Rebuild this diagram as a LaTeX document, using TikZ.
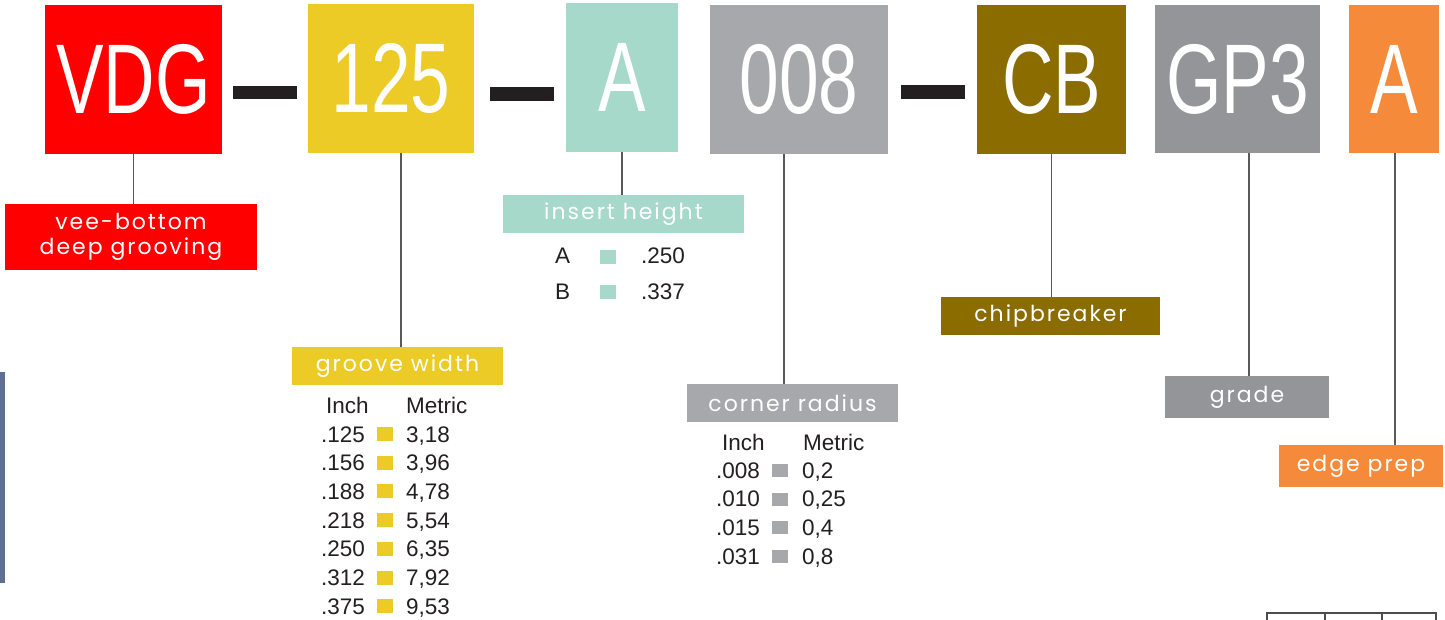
\documentclass[tikz,border=0pt]{standalone}
\usepackage{fontspec}
\usepackage{graphicx}
\setmainfont{Liberation Sans}
\newfontfamily\labelfont[LetterSpace=9]{Poppins}

\definecolor{cRed}{HTML}{FF0000}
\definecolor{cYellow}{HTML}{EDCB26}
\definecolor{cTeal}{HTML}{A7D9CA}
\definecolor{cGray}{HTML}{A7A8AC}
\definecolor{cOlive}{HTML}{8A6C00}
\definecolor{cDark}{HTML}{939598}
\definecolor{cOrange}{HTML}{F58A3A}
\definecolor{cInk}{HTML}{231F20}
\definecolor{cBlue}{HTML}{5F6F92}

\newcommand\slim[1]{\raisebox{-3pt}{\scalebox{0.72}[1]{#1}}}

\tikzset{
    code/.style={fill=#1, text=white, inner sep=0pt, font=\fontsize{99}{99}\selectfont},
    lbl/.style={fill=#1, text=white, inner sep=0pt, align=center,
        font=\labelfont\fontsize{22}{25}\selectfont},
    conn/.style={draw=black!65, line width=1.3pt},
    tab/.style={text=cInk, inner sep=0pt, font=\fontsize{22.5}{22.5}\selectfont},
}

\begin{document}
\begin{tikzpicture}[x=1pt, y=-1pt]
        \useasboundingbox (0,0) rectangle (1445,620);

        % part number
        \node[code=cRed, minimum width=177pt, minimum height=149pt] (vdg) at (133.5,79.5) {\slim{VDG}};
        \node[code=cYellow, minimum width=166pt, minimum height=149pt] (c125) at (391,78.5) {\slim{125}};
        \node[code=cTeal, minimum width=112pt, minimum height=149pt] (cA) at (622,77.5) {\slim{A}};
        \node[code=cGray, minimum width=178pt, minimum height=149pt] (c008) at (799,79.5) {\slim{008}};
        \node[code=cOlive, minimum width=149pt, minimum height=149pt] (cCB) at (1051.5,79.5) {\slim{CB}};
        \node[code=cDark, minimum width=165pt, minimum height=148pt] (cGP) at (1237.5,79) {\slim{GP3}};
        \node[code=cOrange, minimum width=90pt, minimum height=148pt] (cEdge) at (1394,79) {\slim{A}};

        % dashes
        \fill[cInk] (233,86) rectangle (297,99);
        \fill[cInk] (490,87) rectangle (554,101);
        \fill[cInk] (901,85) rectangle (965,99);

        % labels
        \node[lbl=cRed, minimum width=252pt, minimum height=66pt] (lvee) at (131,237) {vee-bottom\\deep grooving};
        \node[lbl=cYellow, minimum width=211pt, minimum height=38pt] (lgroove) at (397.5,366) {groove width};
        \node[lbl=cTeal, minimum width=241pt, minimum height=38pt] (linsert) at (623.5,214) {insert height};
        \node[lbl=cGray, minimum width=211pt, minimum height=38pt] (lcorner) at (792.5,403) {corner radius};
        \node[lbl=cOlive, minimum width=219pt, minimum height=38pt] (lchip) at (1050.5,316) {chipbreaker};
        \node[lbl=cDark, minimum width=164pt, minimum height=42pt] (lgrade) at (1247,397) {grade};
        \node[lbl=cOrange, minimum width=164pt, minimum height=42pt] (ledge) at (1361,466) {edge prep};

        \foreach \c/\l/\dx in {vdg/lvee/0, c125/lgroove/10, cA/linsert/0, c008/lcorner/-15,
                cCB/lchip/0, cGP/lgrade/11.5, cEdge/ledge/1}
            \draw[conn] ([xshift=\dx pt]\c.south) -- ([xshift=\dx pt]\c.south |- \l.north);

        % insert height values
        \foreach \h/\v [count=\i from 0] in {A/.250, B/.337} {
            \node[tab, anchor=base west] (ih\i) at (555,{264+35*\i}) {\h};
            \fill[cTeal] (600,{250+35*\i}) rectangle +(16,14);
            \node[tab, anchor=base west] (iv\i) at (641,{264+35*\i}) {\v};
        }

        % groove width values
        \node[tab, anchor=base west] (gInch) at (326,413) {Inch};
        \node[tab, anchor=base west] (gMetric) at (406,413) {Metric};
        \foreach \inch/\mm [count=\i from 0] in {.125/{3,18}, .156/{3,96}, .188/{4,78},
                .218/{5,54}, .250/{6,35}, .312/{7,92}, .375/{9,53}} {
            \node[tab, anchor=base east] (gi\i) at (365,{442+28.7*\i}) {\inch};
            \fill[cYellow] (377,{427+28.7*\i}) rectangle +(16,14);
            \node[tab, anchor=base west] (gm\i) at (406,{442+28.7*\i}) {\mm};
        }

        % corner radius values
        \node[tab, anchor=base west] (rInch) at (722,450) {Inch};
        \node[tab, anchor=base west] (rMetric) at (803,450) {Metric};
        \foreach \inch/\mm [count=\i from 0] in {.008/{0,2}, .010/{0,25}, .015/{0,4}, .031/{0,8}} {
            \node[tab, anchor=base east] (ri\i) at (760,{478+28.7*\i}) {\inch};
            \fill[cGray] (772,{464+28.7*\i}) rectangle +(16,13);
            \node[tab, anchor=base west] (rm\i) at (802,{478+28.7*\i}) {\mm};
        }

        % page edges
        \fill[cBlue] (0,372) rectangle (5,583);
        \draw[black!70, line width=1.2pt] (1267,620) |- (1436,613) -- (1436,620);
        \draw[black!70, line width=1.2pt] (1325,613) -- (1325,620) (1382,613) -- (1382,620);
    \end{tikzpicture}
\end{document}
